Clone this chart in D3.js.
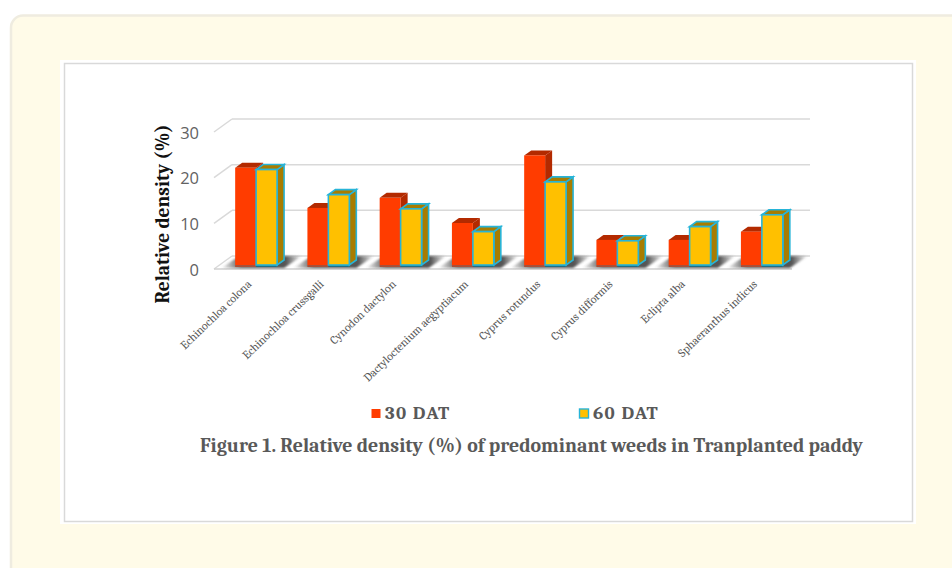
<!DOCTYPE html>
<html>
<head>
<meta charset="utf-8">
<script src="https://cdn.jsdelivr.net/npm/d3@7"></script>
<style>
  html, body { margin: 0; padding: 0; background: #fff; }
  svg { display: block; }
</style>
</head>
<body>
<svg id="chart" width="952" height="568"></svg>
<script>
const categories = ["Echinochloa colona", "Echinochloa crussgalli", "Cynodon dactylon",
  "Dactyloctenium aegyptiacum", "Cyprus rotundus", "Cyprus difformis", "Eclipta alba", "Sphaeranthus indicus"];
const dat30 = [21.3, 12.5, 14.7, 9.2, 24, 5.5, 5.5, 7.3];
const dat60 = [20.9, 15.4, 12.3, 7.3, 18.2, 5.3, 8.4, 11];
const yTicks = [0, 10, 20, 30];

const svg = d3.select("#chart");
const serif = "Cambria, Caladea, 'Liberation Serif', 'DejaVu Serif', serif";

// page frame
svg.append("rect").attr("x", 11).attr("y", 15.5).attr("width", 980).attr("height", 600)
  .attr("rx", 12).attr("fill", "#fffbe8").attr("stroke", "#efece0").attr("stroke-width", 2.5);
svg.append("rect").attr("x", 60).attr("y", 60).attr("width", 856).attr("height", 464).attr("fill", "#fff");
svg.append("rect").attr("x", 64.5).attr("y", 63.5).attr("width", 848).attr("height", 458)
  .attr("fill", "#fff").attr("stroke", "#d9d9d9").attr("stroke-width", 1.5);

// back wall scale, the bars stand a bit in front of it
const y = d3.scaleLinear([0, 30], [256, 119]);
const x = d3.scaleBand(categories, [220, 798]).paddingInner(0.42).paddingOuter(0.21);
const floorDrop = 9;
const depth = {x: 7, y: 5};

const grid = svg.append("g");
yTicks.forEach(t => {
  grid.append("line").attr("x1", 232).attr("x2", 810).attr("y1", y(t)).attr("y2", y(t))
    .attr("stroke", "#d9d9d9").attr("stroke-width", 1.5);
  grid.append("line").attr("x1", 214).attr("x2", 232).attr("y1", y(t) + 13).attr("y2", y(t))
    .attr("stroke", "#d9d9d9").attr("stroke-width", 1.5);
  grid.append("text").attr("x", 199).attr("y", y(t) + 19.5).attr("text-anchor", "end")
    .attr("font-family", "'Open Sans', sans-serif").attr("font-size", 16.5).attr("fill", "#626262").text(t);
});
grid.append("line").attr("x1", 214).attr("x2", 792).attr("y1", y(0) + 13).attr("y2", y(0) + 13)
  .attr("stroke", "#d0d0d0").attr("stroke-width", 1.5);

function drawBar(g, bx, w, val, c) {
  const top = y(val) + floorDrop, base = y(0) + floorDrop;
  const pts = a => a.map(p => p.join(",")).join(" ");
  // dim reflection right under the front face
  g.append("rect").attr("x", bx).attr("y", base).attr("width", w).attr("height", 2).attr("fill", c.under);
  g.append("polygon").attr("points", pts([[bx + w, top], [bx + w + depth.x, top - depth.y], [bx + w + depth.x, base - depth.y], [bx + w, base]]))
    .attr("fill", c.side).attr("stroke", c.stroke || "none").attr("stroke-width", 1.6);
  g.append("polygon").attr("points", pts([[bx, top], [bx + depth.x, top - depth.y], [bx + w + depth.x, top - depth.y], [bx + w, top]]))
    .attr("fill", c.side).attr("stroke", c.stroke || "none").attr("stroke-width", 1.6);
  g.append("rect").attr("x", bx).attr("y", top).attr("width", w).attr("height", base - top)
    .attr("fill", c.front).attr("stroke", c.stroke || "none").attr("stroke-width", 1.6);
}

const barW = x.bandwidth() / 2;
const red = {front: "#ff3c00", side: "#b32a00", under: "#a8503a"};
const gold = {front: "#ffc000", side: "#a87c00", stroke: "#27b4d8", under: "#1f6f82"};

// floor shadows with the white streak between groups
const defs = svg.append("defs");
const shadow = defs.append("linearGradient").attr("id", "shadow");
shadow.append("stop").attr("offset", 0).attr("stop-color", "#555").attr("stop-opacity", 0);
shadow.append("stop").attr("offset", 0.25).attr("stop-color", "#555");
shadow.append("stop").attr("offset", 0.8).attr("stop-color", "#555");
shadow.append("stop").attr("offset", 1).attr("stop-color", "#555").attr("stop-opacity", 0);
defs.append("filter").attr("id", "soft").append("feGaussianBlur").attr("stdDeviation", 0.8);
categories.forEach(c => {
  const bx = x(c), b = y(0) + floorDrop;
  svg.append("polygon")
    .attr("points", [[bx - 14, b + 3], [bx + x.bandwidth() + 7, b + 3], [bx + x.bandwidth() + 25, b - 9], [bx + 4, b - 9]].map(p => p.join(",")).join(" "))
    .attr("fill", "url(#shadow)").attr("filter", "url(#soft)");
});

const bars = svg.append("g");
categories.forEach((c, i) => {
  drawBar(bars, x(c), barW, dat30[i], red);
  drawBar(bars, x(c) + barW, barW, dat60[i], gold);
});

// category labels
categories.forEach(c => {
  svg.append("text").attr("transform", `translate(${x(c) + 17},${285}) rotate(-44)`)
    .attr("text-anchor", "end").attr("font-family", serif).attr("font-size", 11.8)
    .attr("fill", "#595959").text(c);
});

svg.append("text").attr("transform", "translate(169,214) rotate(-90)").attr("text-anchor", "middle")
  .attr("font-family", serif).attr("font-size", 19.5).attr("font-weight", "bold").attr("fill", "#111")
  .text("Relative density (%)");

// legend
const legend = [{label: "30 DAT", x: 371.5, color: "#ff3c00"}, {label: "60 DAT", x: 579.5, color: "#ffc000", stroke: "#27b4d8"}];
legend.forEach(d => {
  svg.append("rect").attr("x", d.x).attr("y", 409).attr("width", 9).attr("height", 9)
    .attr("fill", d.color).attr("stroke", d.stroke || "none").attr("stroke-width", 1.4);
  svg.append("text").attr("x", d.x + 13.5).attr("y", 418.5).attr("font-family", serif)
    .attr("font-size", 19).attr("letter-spacing", 1.3).attr("font-weight", "bold").attr("fill", "#595959").text(d.label);
});

svg.append("text").attr("x", 200).attr("y", 452).attr("font-family", serif)
  .attr("font-size", 19.9).attr("font-weight", "bold").attr("fill", "#595959")
  .text("Figure 1. Relative density (%) of predominant weeds in Tranplanted paddy");
</script>
</body>
</html>
